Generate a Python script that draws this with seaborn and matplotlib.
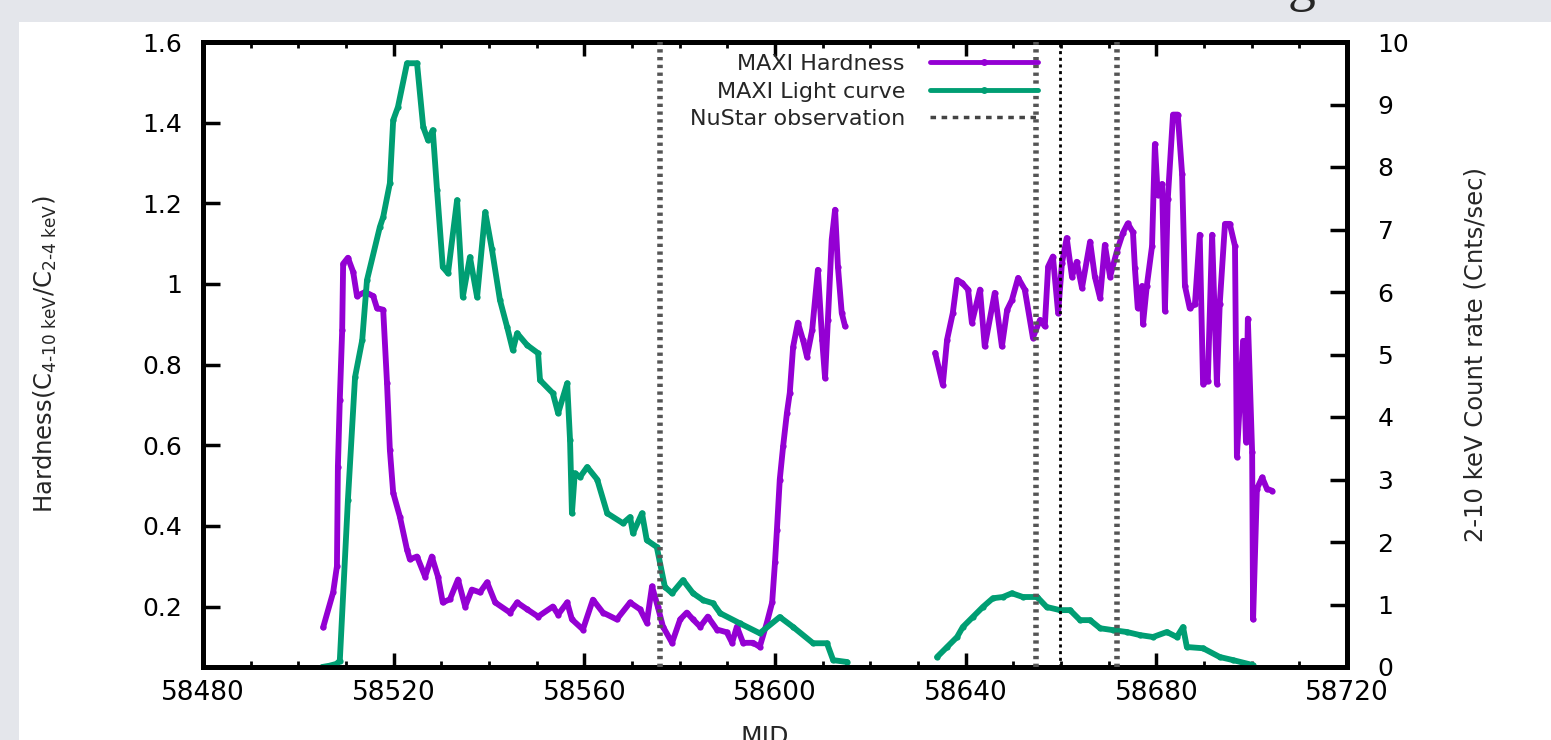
import numpy as np
import pandas as pd
import matplotlib
matplotlib.use("Agg")
import matplotlib.pyplot as plt
import seaborn as sns
from matplotlib.lines import Line2D
from matplotlib.patches import Rectangle
from matplotlib.ticker import MultipleLocator

# ---------------- data ----------------
hard1_mjd = [58505.2, 58507.3, 58508.1, 58508.3, 58508.7, 58509.2, 58509.4, 58510.4, 58511.5, 58512.3,
             58514.0, 58515.7, 58516.5, 58517.8, 58518.6, 58519.2, 58519.9, 58521.3, 58522.8, 58523.4,
             58524.9, 58526.6, 58528.0, 58529.3, 58530.3, 58531.8, 58533.5, 58535.0, 58536.4, 58538.1,
             58539.6, 58541.3, 58544.4, 58545.9, 58548.0, 58550.3, 58553.4, 58554.5, 58556.4, 58557.4,
             58559.7, 58561.8, 58563.9, 58566.8, 58569.6, 58571.7, 58573.1, 58574.2, 58575.4, 58576.5,
             58578.4, 58580.1, 58581.5, 58582.8, 58584.3, 58585.9, 58587.8, 58589.9, 58591.0, 58592.0,
             58593.3, 58595.4, 58596.8, 58598.3, 58599.4, 58600.0, 58600.4, 58601.0, 58601.7, 58602.5,
             58603.1, 58603.8, 58604.8, 58605.9, 58606.7, 58607.8, 58609.0, 58609.9, 58610.5, 58611.1,
             58611.9, 58612.6, 58613.2, 58614.0, 58614.7]
hard1_val = [0.148, 0.235, 0.30, 0.547, 0.713, 0.886, 1.05, 1.065, 1.03, 0.97,
             0.98, 0.97, 0.94, 0.936, 0.755, 0.589, 0.482, 0.423, 0.341, 0.317,
             0.324, 0.274, 0.324, 0.274, 0.21, 0.218, 0.267, 0.20, 0.242, 0.235,
             0.26, 0.21, 0.185, 0.21, 0.193, 0.175, 0.20, 0.18, 0.21, 0.168,
             0.143, 0.217, 0.185, 0.168, 0.21, 0.193, 0.16, 0.25, 0.20, 0.15,
             0.11, 0.168, 0.185, 0.168, 0.15, 0.175, 0.143, 0.136, 0.11, 0.15,
             0.11, 0.11, 0.10, 0.16, 0.21, 0.31, 0.39, 0.515, 0.597, 0.68,
             0.73, 0.844, 0.904, 0.86, 0.82, 0.886, 1.035, 0.86, 0.767, 0.911,
             1.11, 1.184, 1.043, 0.928, 0.895]

hard2_mjd = [58633.6, 58635.2, 58636.1, 58637.3, 58638.2, 58639.2, 58640.5, 58641.3, 58643.0, 58644.0,
             58646.1, 58647.6, 58648.7, 58649.7, 58651.0, 58652.4, 58654.1, 58655.6, 58656.6, 58657.3,
             58658.3, 58659.4, 58660.2, 58661.2, 58662.3, 58663.3, 58664.4, 58666.1, 58667.1, 58668.2,
             58669.2, 58670.3, 58671.7, 58673.0, 58674.0, 58675.1, 58675.5, 58676.1, 58677.0, 58677.2,
             58678.0, 58679.1, 58679.7, 58680.3, 58681.2, 58681.8, 58682.4, 58683.5, 58684.5, 58685.4,
             58686.0, 58687.0, 58688.1, 58689.1, 58689.8, 58690.8, 58691.7, 58692.7, 58693.3, 58694.4,
             58695.4, 58696.5, 58696.9, 58698.2, 58698.8, 58699.2, 58700.1, 58700.3, 58701.1, 58702.2,
             58703.2, 58704.3]
hard2_val = [0.829, 0.75, 0.862, 0.928, 1.01, 1.003, 0.986, 0.904, 0.986, 0.845,
             0.978, 0.845, 0.936, 0.96, 1.015, 0.986, 0.867, 0.911, 0.895, 1.043,
             1.068, 0.928, 1.052, 1.114, 1.018, 1.055, 0.99, 1.105, 1.018, 0.965,
             1.097, 1.018, 1.08, 1.127, 1.15, 1.128, 1.04, 0.94, 0.995, 0.90,
             0.995, 1.094, 1.347, 1.22, 1.248, 0.933, 1.21, 1.42, 1.42, 1.273,
             0.995, 0.94, 0.95, 1.122, 0.753, 0.76, 1.122, 0.753, 0.95, 1.149,
             1.149, 1.094, 0.572, 0.859, 0.609, 0.914, 0.582, 0.168, 0.492, 0.52,
             0.492, 0.487]

rate1_mjd = [58505.0, 58506.5, 58508.0, 58508.7, 58510.4, 58511.9, 58513.4, 58514.4, 58517.1, 58517.8,
             58519.2, 58519.9, 58520.9, 58522.8, 58524.9, 58526.2, 58527.2, 58528.2, 58529.1, 58530.3,
             58531.4, 58533.3, 58534.5, 58536.0, 58537.5, 58539.2, 58540.6, 58542.3, 58543.8, 58545.0,
             58545.9, 58548.0, 58550.3, 58550.7, 58553.4, 58554.5, 58556.4, 58557.0, 58557.4, 58558.0,
             58559.1, 58560.6, 58562.7, 58564.8, 58568.1, 58569.6, 58570.2, 58572.1, 58573.1, 58575.2,
             58576.9, 58578.4, 58580.7, 58582.8, 58584.9, 58587.0, 58588.5, 58592.6, 58596.8, 58601.0,
             58603.8, 58608.0, 58610.9, 58612.2, 58615.1]
rate1_val = [0.0, 0.02, 0.05, 0.1, 2.67, 4.64, 5.23, 6.19, 7.04, 7.2,
             7.74, 8.75, 8.96, 9.66, 9.66, 8.64, 8.43, 8.59, 7.63, 6.4,
             6.3, 7.47, 5.92, 6.56, 5.92, 7.28, 6.69, 5.87, 5.44, 5.07,
             5.34, 5.15, 5.02, 4.59, 4.38, 4.06, 4.54, 3.63, 2.46, 3.1,
             3.04, 3.2, 3.0, 2.46, 2.3, 2.4, 2.14, 2.46, 2.03, 1.92,
             1.28, 1.18, 1.39, 1.18, 1.07, 1.02, 0.86, 0.7, 0.54, 0.8,
             0.64, 0.38, 0.38, 0.11, 0.08]

rate2_mjd = [58634.0, 58636.1, 58638.2, 58639.4, 58641.5, 58643.6, 58645.7, 58647.8, 58649.7, 58652.0,
             58655.0, 58657.0, 58659.8, 58661.9, 58664.0, 58666.1, 58668.2, 58670.9, 58673.8, 58676.6,
             58679.3, 58682.2, 58684.3, 58685.6, 58686.4, 58689.8, 58693.3, 58696.1, 58700.3]
rate2_val = [0.16, 0.32, 0.48, 0.64, 0.8, 0.96, 1.1, 1.12, 1.18, 1.12,
             1.12, 0.96, 0.91, 0.91, 0.75, 0.75, 0.62, 0.59, 0.56, 0.51,
             0.48, 0.56, 0.48, 0.64, 0.32, 0.30, 0.16, 0.11, 0.03]

nustar_mjd = [58575.8, 58654.7, 58671.7]
extra_mjd = [58659.8]

x_ticks = [58480, 58520, 58560, 58600, 58640, 58680, 58720]
h_ticks = [0.2, 0.4, 0.6, 0.8, 1.0, 1.2, 1.4, 1.6]
h_ticklabels = ["0.2", "0.4", "0.6", "0.8", "1", "1.2", "1.4", "1.6"]
r_ticks = [0, 1, 2, 3, 4, 5, 6, 7, 8, 9, 10]

legend_labels = ["MAXI Hardness", "MAXI Light curve", "NuStar observation"]

# ---------------- styling ----------------
PURPLE = "#9400d3"
GREEN = "#009e73"
GRAYBG = "#e4e6eb"

sns.set_theme(style="white")
plt.rcParams["font.family"] = ["DejaVu Sans"]
plt.rcParams["mathtext.fontset"] = "dejavusans"

W, H = 1551, 740
fig = plt.figure(figsize=(W / 100, H / 100), dpi=100, facecolor=GRAYBG)
fig.add_artist(Rectangle((19 / W, 0), 1, 1 - 22 / H, transform=fig.transFigure,
                         facecolor="white", edgecolor="none", zorder=-5))

ax = fig.add_axes([203 / W, 1 - 667 / H, 1144 / W, 625 / H])
ax2 = ax.twinx()

hdf = pd.concat([
    pd.DataFrame({"mjd": hard1_mjd, "val": hard1_val, "seg": 1}),
    pd.DataFrame({"mjd": hard2_mjd, "val": hard2_val, "seg": 2}),
])
rdf = pd.concat([
    pd.DataFrame({"mjd": rate1_mjd, "val": rate1_val, "seg": 1}),
    pd.DataFrame({"mjd": rate2_mjd, "val": rate2_val, "seg": 2}),
])

sns.lineplot(data=hdf, x="mjd", y="val", units="seg", estimator=None, sort=False,
             color=PURPLE, lw=4.2, marker="o", markersize=4.5, markeredgewidth=0,
             ax=ax, legend=False)
sns.lineplot(data=rdf, x="mjd", y="val", units="seg", estimator=None, sort=False,
             color=GREEN, lw=4.2, marker="o", markersize=4.5, markeredgewidth=0,
             ax=ax2, legend=False)

for v in nustar_mjd:
    ax2.axvline(v, color="#555555", lw=4, ls=(0, (0.6, 0.8)), zorder=5)
for v in extra_mjd:
    ax2.axvline(v, color="black", lw=2, ls=(0, (1.1, 1.3)), zorder=5)

ax.set_xlim(58480, 58720)
ax.set_ylim(0.05, 1.6)
ax2.set_ylim(0, 10)

ax.set_xticks(x_ticks)
ax.set_xticklabels([str(t) for t in x_ticks])
ax.xaxis.set_minor_locator(MultipleLocator(10))
ax.set_yticks(h_ticks)
ax.set_yticklabels(h_ticklabels)
ax2.set_yticks(r_ticks)
ax2.set_yticklabels([str(t) for t in r_ticks])

ax.set_xlabel("")
ax.set_ylabel("")
ax2.set_ylabel("")

ax.tick_params(axis="x", which="major", direction="in", top=True, bottom=True,
               length=10, width=2.5, labelsize=19, pad=9, colors="black")
ax.tick_params(axis="x", which="minor", direction="in", top=True, bottom=True,
               length=4, width=2, colors="black")
ax.tick_params(axis="y", which="major", direction="in", left=True, right=False,
               length=12, width=2.5, labelsize=18, pad=15, colors="black")
ax2.tick_params(axis="y", which="major", direction="in", right=True, left=False,
                length=12, width=2.5, labelsize=18, pad=22, colors="black")
for label in ax2.get_yticklabels():
    label.set_horizontalalignment("left")

for a in (ax, ax2):
    for s in a.spines.values():
        s.set_color("black")
        s.set_linewidth(3.5)
        s.set_visible(True)

ax.set_facecolor("white")

handles = [
    Line2D([], [], color=PURPLE, lw=3.5, marker="o", markersize=5, markeredgewidth=0),
    Line2D([], [], color=GREEN, lw=3.5, marker="o", markersize=5, markeredgewidth=0),
    Line2D([], [], color="#444444", lw=2.5, ls=(0, (1.6, 1.6))),
]
ax2.legend(handles, legend_labels, loc="upper right",
           bbox_to_anchor=(1038 / W, 1 - 54 / H), bbox_transform=fig.transFigure,
           frameon=False, markerfirst=False, numpoints=1, handlelength=4.86,
           handletextpad=1.13, labelspacing=0.34, fontsize=16,
           borderaxespad=0, borderpad=0)

fig.text(45 / W, 1 - 354 / H,
         r"Hardness(C$_{\text{4-10 keV}}$/C$_{\text{2-4 keV}}$)",
         rotation=90, ha="center", va="center", fontsize=17.5)
fig.text(1475 / W, 1 - 355 / H, "2-10 keV Count rate (Cnts/sec)",
         rotation=90, ha="center", va="center", fontsize=17.5)
fig.text(765 / W, 1 - 725 / H, "MJD", ha="center", va="top", fontsize=18)
fig.text(1302 / W, 1.0, "g", ha="center", va="baseline", fontsize=40,
         family=["Liberation Serif", "DejaVu Serif"])

fig.savefig("out.png", dpi=100, facecolor=GRAYBG)
